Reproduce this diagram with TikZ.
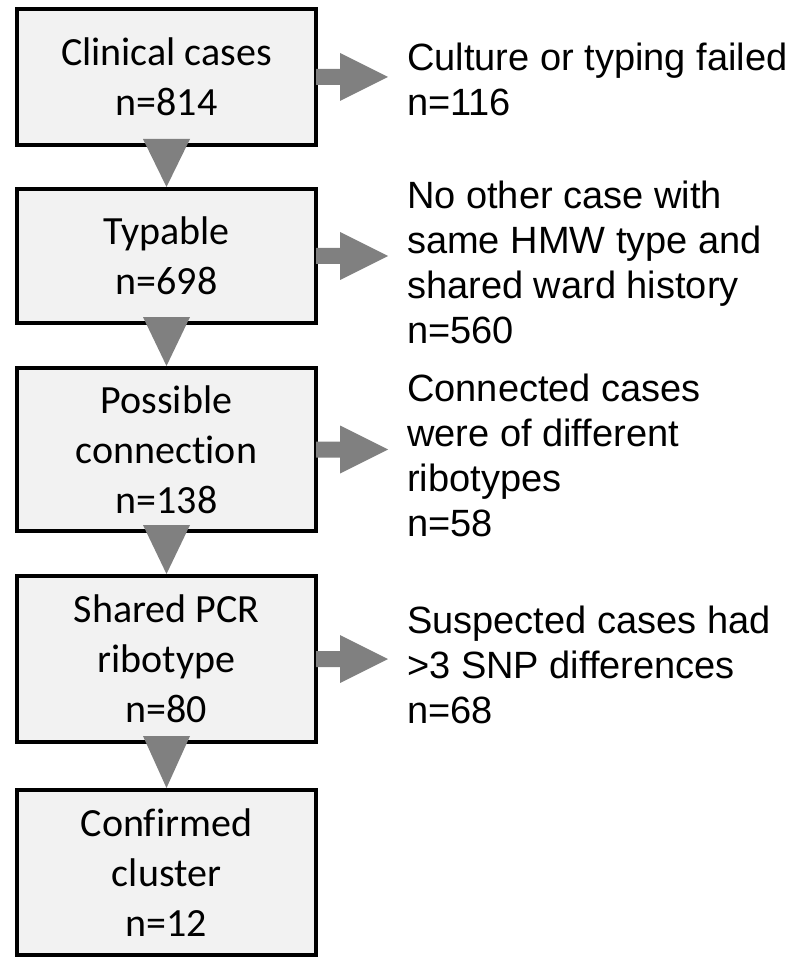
\documentclass[tikz,border=0pt]{standalone}
\usepackage{fontspec}
\setmainfont[Ligatures=NoCommon]{Carlito}
\newfontfamily\arialfont{Liberation Sans}
\usetikzlibrary{positioning,calc}
\definecolor{boxfill}{HTML}{F2F2F2}
\definecolor{arrowgray}{HTML}{808080}

\begin{document}
\begin{tikzpicture}[x=1pt,y=-1pt,
	stage/.style={draw,line width=4pt,fill=boxfill,minimum width=299pt,inner sep=0pt,align=center,font=\fontsize{40}{50}\selectfont},
	excl/.style={inner sep=0pt,align=left,font=\arialfont\fontsize{38}{45}\selectfont}]
	\useasboundingbox (0,0) rectangle (806,957);
	% flow boxes
	\node[stage,minimum height=136pt] (clin) at (166.5,77) {Clinical cases\\n=814};
	\node[stage,minimum height=134pt] (typ) [below=40pt of clin] {Typable\\n=698};
	\node[stage,minimum height=163pt] (poss) [below=41pt of typ] {Possible\\connection\\n=138};
	\node[stage,minimum height=166pt] (pcr) [below=41pt of poss] {Shared PCR\\ribotype\\n=80};
	\node[stage,minimum height=165pt] (conf) [below=44pt of pcr] {Confirmed\\cluster\\n=12};
	% excluded
	\node[excl] (fail) [right=89pt of clin,yshift=-2pt] {Culture or typing failed\\n=116};
	\node[excl] (nohist) [right=89pt of typ,yshift=-6pt] {No other case with\\same HMW type and\\shared ward history\\n=560};
	\node[excl] (diffrib) [right=89pt of poss,yshift=-6pt] {Connected cases\\were of different\\ribotypes\\n=58};
	\node[excl] (snp) [right=89pt of pcr,yshift=-6pt] {Suspected cases had\\>3 SNP differences\\n=68};
	% arrows
	\foreach \a/\b in {clin/typ,typ/poss,poss/pcr,pcr/conf}
		\fill[arrowgray] ($(\a.south)+(-23.5,-8)$) -- ($(\a.south)+(23.5,-8)$) -- (\b.north) -- cycle;
	\foreach \a/\b in {clin/fail,typ/nohist,poss/diffrib,pcr/snp}
		\fill[arrowgray] ($(\a.east)+(-2,-8)$) -- ++(24,0) -- ++(0,-16) -- ($(\a.east)!70pt!(\a.east -| \b.west)$)
			-- ($(\a.east)+(22,24)$) -- ++(0,-16) -- ($(\a.east)+(-2,8)$) -- cycle;
\end{tikzpicture}
\end{document}
